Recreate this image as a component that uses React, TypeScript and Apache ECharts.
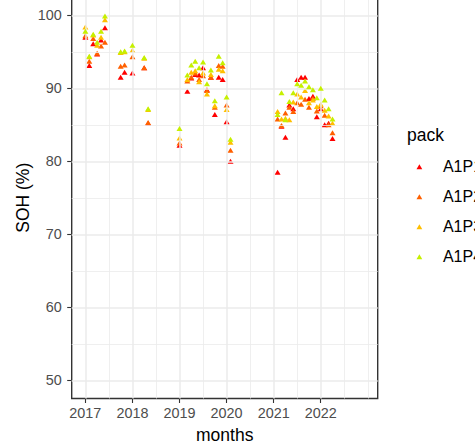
import React, { useEffect, useRef } from "react";
import * as echarts from "echarts";

// Observation months (YYYY-MM)
const months = [
  "2017-01", "2017-02", "2017-03", "2017-04", "2017-05", "2017-06", "2017-10", "2017-11", "2018-01", "2018-04", "2018-05",
  "2019-01", "2019-03", "2019-04", "2019-05", "2019-06", "2019-07", "2019-08", "2019-09", "2019-10", "2019-11", "2019-12", "2020-01", "2020-02",
  "2021-02", "2021-03", "2021-04", "2021-05", "2021-06", "2021-07", "2021-08", "2021-09", "2021-10", "2021-11", "2021-12", "2022-01", "2022-02", "2022-03", "2022-04",
];

const packNames = ["A1P1", "A1P2", "A1P3", "A1P4"];

// State of health (%) per pack, one value per month
const sohA1P1 = [
  97.0, 93.1, 96.1, 94.7, 96.6, 98.3, 91.5, 92.2, 92.1, 92.8, 85.2,
  82.2, 89.6, 91.4, 91.9, 91.8, 92.8, 89.8, 91.5, 86.4, 91.5, 91.2, 85.4, 80.0,
  78.5, 84.8, 83.3, 87.7, 87.2, 91.2, 91.5, 91.5, 88.6, 88.9, 86.1, 87.2, 85.0, 85.2, 83.1,
];
const sohA1P2 = [
  97.2, 93.7, 96.8, 94.8, 95.8, 96.3, 93.0, 93.2, 94.3, 92.8, 85.3,
  82.5, 91.0, 91.5, 92.1, 91.2, 91.7, 89.7, 91.5, 87.4, 93.1, 93.0, 87.7, 81.5,
  85.8, 84.9, 86.6, 87.4, 86.8, 88.0, 87.8, 88.5, 87.4, 88.6, 86.9, 87.6, 86.3, 85.0, 83.9,
];
const sohA1P3 = [
  98.4, 94.3, 97.3, 95.9, 97.0, 99.4, 94.9, 95.0, 95.2, 94.1, 87.1,
  83.2, 91.2, 92.2, 92.4, 90.9, 92.1, 89.2, 91.9, 87.6, 92.6, 92.4, 87.1, 82.6,
  86.8, 85.8, 85.9, 85.7, 88.1, 89.2, 88.8, 89.7, 88.0, 88.4, 87.5, 87.8, 87.0, 86.2, 85.2,
];
const sohA1P4 = [
  97.8, 94.4, 97.4, 96.3, 97.8, 99.9, 95.0, 95.1, 95.9, 94.2, 87.2,
  84.5, 91.8, 93.2, 93.7, 92.8, 93.6, 90.6, 92.5, 88.3, 94.4, 93.5, 88.8, 83.0,
  86.4, 89.4, 85.7, 88.2, 89.4, 90.6, 90.4, 91.0, 90.2, 89.8, 88.7, 90.0, 88.4, 87.2, 85.8,
];
const sohByPack = [sohA1P1, sohA1P2, sohA1P3, sohA1P4];

const packColors = ["#FF0000", "#FF6000", "#FFBF00", "#C6F000"];

// Axis breaks
const yearTicks = [2017, 2018, 2019, 2020, 2021, 2022];
const yearMinor = [2017.5, 2018.5, 2019.5, 2020.5, 2021.5, 2022.5, 2023];
const sohTicks = [50, 60, 70, 80, 90, 100];
const sohMinor = [55, 65, 75, 85, 95];

const FONT = "'Liberation Sans', Arial, sans-serif";
const GRID_COLOR = "#EBEBEB";

// The drawing surface is wider than the visible frame; the frame clips the overflow.
const FRAME_W = 475;
const FRAME_H = 447;
const CANVAS_W = 540;

// "YYYY-MM" -> decimal year
function toYear(m: string): number {
  const [y, mo] = m.split("-").map(Number);
  return y + (mo - 1) / 12;
}

export default function App() {
  const ref = useRef<HTMLDivElement>(null);

  useEffect(() => {
    if (!ref.current) return;
    const chart = echarts.init(ref.current, null, { renderer: "svg" });

    const gridLines = [
      ...yearMinor.map((v) => ({ xAxis: v, lineStyle: { width: 0.8 } })),
      ...sohMinor.map((v) => ({ yAxis: v, lineStyle: { width: 0.8 } })),
      ...yearTicks.map((v) => ({ xAxis: v, lineStyle: { width: 1.5 } })),
      ...sohTicks.map((v) => ({ yAxis: v, lineStyle: { width: 1.5 } })),
    ];

    const option: any = {
      animation: false,
      backgroundColor: "#FFFFFF",
      textStyle: { fontFamily: FONT },
      title: {
        text: "pack",
        left: 407,
        top: 126,
        padding: 0,
        textStyle: { fontFamily: FONT, fontSize: 17.5, fontWeight: "normal", color: "#000000" },
      },
      legend: {
        data: packNames,
        orient: "vertical",
        left: 416.5,
        top: 158.7,
        padding: 0,
        itemWidth: 37,
        itemHeight: 5,
        itemGap: 14,
        icon: "path://M0,10 L5.77,0 L11.55,10 Z",
        textStyle: { fontFamily: FONT, fontSize: 16, color: "#000000" },
      },
      grid: {
        left: 71.7,
        right: CANVAS_W - 377.7,
        top: -3,
        bottom: FRAME_H - 398.5,
        outerBoundsMode: "none",
        show: true,
        borderColor: "#333333",
        borderWidth: 1.4,
        backgroundColor: "transparent",
      },
      xAxis: {
        type: "value",
        min: 2016.71,
        max: 2023.21,
        name: "months",
        nameLocation: "middle",
        nameGap: 27.5,
        nameMoveOverlap: false,
        nameTextStyle: { fontFamily: FONT, fontSize: 17.5, color: "#000000" },
        axisLine: { show: false },
        splitLine: { show: false },
        axisTick: {
          show: true,
          length: 4.5,
          customValues: yearTicks,
          lineStyle: { color: "#333333", width: 1.1 },
        },
        axisLabel: {
          customValues: yearTicks,
          margin: 7.5,
          fontFamily: FONT,
          fontSize: 14.4,
          color: "#4D4D4D",
          formatter: (v: number) => String(Math.round(v)),
        },
      },
      yAxis: {
        type: "value",
        min: 47.5,
        max: 102.5,
        name: "SOH (%)",
        nameLocation: "middle",
        nameGap: 40,
        nameMoveOverlap: false,
        nameTextStyle: { fontFamily: FONT, fontSize: 17.5, color: "#000000" },
        axisLine: { show: false },
        splitLine: { show: false },
        axisTick: {
          show: true,
          length: 4.5,
          customValues: sohTicks,
          lineStyle: { color: "#333333", width: 1.1 },
        },
        axisLabel: {
          customValues: sohTicks,
          margin: 10,
          fontFamily: FONT,
          fontSize: 14.4,
          color: "#4D4D4D",
        },
      },
      series: [
        {
          name: "panel-grid",
          type: "scatter",
          data: [],
          z: 0,
          silent: true,
          markLine: {
            silent: true,
            symbol: ["none", "none"],
            label: { show: false },
            lineStyle: { color: GRID_COLOR, type: "solid" },
            emphasis: { disabled: true },
            data: gridLines,
          },
        },
        ...packNames.map((name, i) => ({
          name,
          type: "scatter",
          z: 2 + i,
          symbol: "triangle",
          symbolSize: [6, 5],
          itemStyle: { color: packColors[i], opacity: 1 },
          data: months.map((m, k) => [toYear(m), sohByPack[i][k]]),
        })),
      ],
    };

    chart.setOption(option);
    return () => chart.dispose();
  }, []);

  return (
    <div
      style={{
        position: "absolute",
        left: 0,
        top: 0,
        width: FRAME_W,
        height: FRAME_H,
        overflow: "hidden",
        background: "#FFFFFF",
      }}
    >
      <div ref={ref} style={{ width: CANVAS_W, height: FRAME_H }} />
    </div>
  );
}
